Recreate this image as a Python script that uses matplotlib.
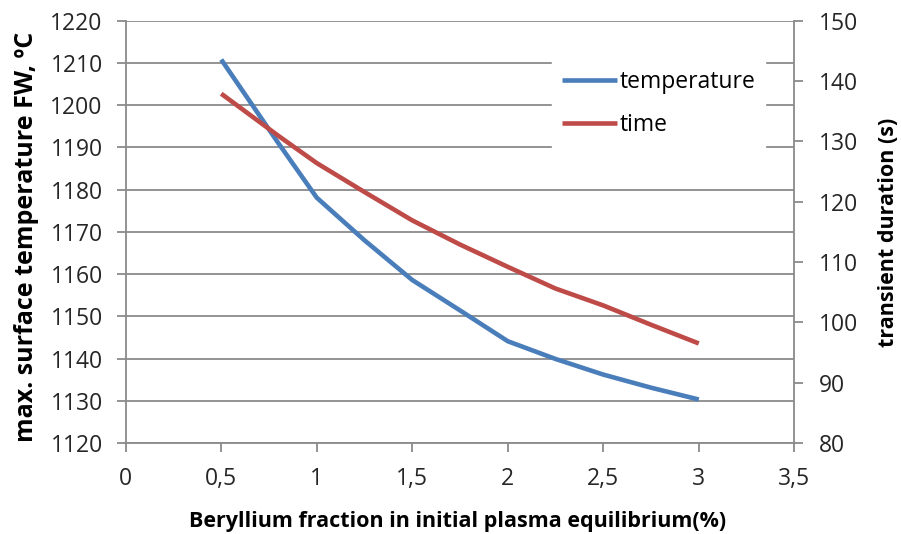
import matplotlib.pyplot as plt
from matplotlib.ticker import FuncFormatter

# data
x_temp = [0.5, 0.79, 1.0, 1.25, 1.5, 1.75, 2.0, 2.25, 2.5, 2.75, 3.0]
temperature = [1210.8, 1191.6, 1178.1, 1168.0, 1158.6, 1151.4, 1144.1, 1139.9, 1136.2, 1133.1, 1130.3]
x_time = [0.5, 0.8, 1.0, 1.25, 1.5, 1.75, 2.0, 2.25, 2.5, 2.75, 3.0]
duration = [137.9, 130.9, 126.4, 121.6, 116.9, 112.9, 109.2, 105.6, 102.8, 99.6, 96.5]

xticks = [0, 0.5, 1, 1.5, 2, 2.5, 3, 3.5]
left_ticks = list(range(1120, 1221, 10))
right_ticks = list(range(80, 151, 10))

plt.rcParams['font.family'] = ['Open Sans', 'DejaVu Sans']
grid_c = '#8a8a8a'
blue = '#4A7EBB'
red = '#BE4B48'
W, H = 901, 534

fig = plt.figure(figsize=(W / 100, H / 100), dpi=100)
ax = fig.add_axes([125.7 / W, 1 - 443 / H, 668.6 / W, 422.3 / H])
ax2 = ax.twinx()

ax.set_xlim(0, 3.5)
ax.set_ylim(1120, 1220)
ax2.set_ylim(80, 150)
ax.set_xticks(xticks)
ax.set_yticks(left_ticks)
ax2.set_yticks(right_ticks)
ax.xaxis.set_major_formatter(FuncFormatter(lambda v, p: f"{v:g}".replace('.', ',')))

ax.grid(axis='y', color=grid_c, linewidth=1.3)
ax.set_axisbelow(True)
for a in (ax, ax2):
    a.spines['top'].set_visible(False)
    for s in ('left', 'right', 'bottom'):
        a.spines[s].set_color(grid_c)
        a.spines[s].set_linewidth(1.3)
    a.tick_params(colors=grid_c, labelcolor='#262626', labelsize=16.5, length=6.5, width=1.3)
ax.tick_params(axis='x', pad=11)
ax.tick_params(axis='y', pad=10)
ax2.tick_params(axis='y', pad=11)
ax.spines['right'].set_visible(False)
ax2.spines['left'].set_visible(False)
ax2.spines['bottom'].set_visible(False)

l1, = ax.plot(x_temp, temperature, color=blue, linewidth=3.3, solid_capstyle='butt')
l2, = ax2.plot(x_time, duration, color=red, linewidth=3.3, solid_capstyle='butt')

fig.text(458 / W, 1 - 521 / H, "Beryllium fraction in initial plasma equilibrium(%)",
         fontsize=15.5, fontweight='bold', ha='center', va='center')
fig.text(27 / W, 1 - 237 / H, "max. surface temperature FW, ºC", fontsize=18,
         fontweight='bold', ha='center', va='center', rotation=90)
fig.text(888 / W, 1 - 232 / H, "transient duration (s)", fontsize=15.5,
         fontweight='bold', ha='center', va='center', rotation=90)

leg = ax2.legend([l1, l2], ["temperature", "time"], loc='center left',
                 bbox_to_anchor=(552 / W, 1 - 103.3 / H), bbox_transform=fig.transFigure,
                 frameon=True, fontsize=16.5, borderaxespad=0,
                 handlelength=2.4, handletextpad=0.1, labelspacing=0.85,
                 borderpad=0.43, fancybox=False)
leg.get_frame().set_edgecolor('white')
leg.get_frame().set_facecolor('white')
leg.get_frame().set_alpha(1)

fig.savefig("out.png", dpi=100)
